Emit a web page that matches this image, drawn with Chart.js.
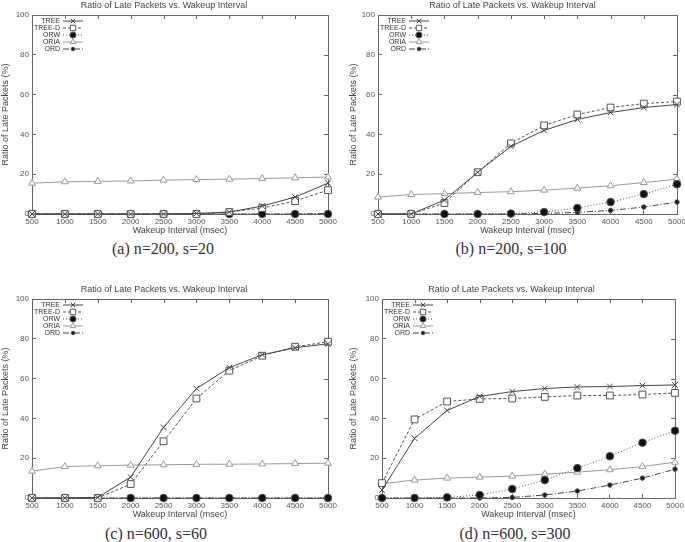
<!DOCTYPE html>
<html>
<head>
<meta charset="utf-8">
<script src="https://cdn.jsdelivr.net/npm/chart.js@4"></script>
<style>
body { margin: 0; background: #fff; width: 685px; height: 542px; position: relative; overflow: hidden; }
canvas { position: absolute; }
.cap { position: absolute; font-family: "Liberation Serif", serif; font-size: 16px; color: #333; white-space: nowrap; transform: translateX(-50%); }
</style>
</head>
<body>
<canvas id="cA" width="342" height="236" style="left:0;top:0"></canvas>
<canvas id="cB" width="343" height="236" style="left:342px;top:0"></canvas>
<canvas id="cC" width="342" height="236" style="left:0;top:284px"></canvas>
<canvas id="cD" width="343" height="236" style="left:342px;top:284px"></canvas>
<div class="cap" style="left:163px;top:240px">(a) n=200, s=20</div>
<div class="cap" style="left:511px;top:240px">(b) n=200, s=100</div>
<div class="cap" style="left:156px;top:525px">(c) n=600, s=60</div>
<div class="cap" style="left:515px;top:525px">(d) n=600, s=300</div>
<script>
// wakeup intervals (msec)
const intervals = [500, 1000, 1500, 2000, 2500, 3000, 3500, 4000, 4500, 5000];
const seriesNames = ['TREE', 'TREE-D', 'ORW', 'ORIA', 'ORD'];
const yTicks = [0, 20, 40, 60, 80, 100];

// (a) n=200, s=20
const treeA  = [0, 0, 0, 0, 0, 0.3, 1, 4, 8.5, 15.5];
const treeDA = [0, 0, 0, 0, 0, 0, 1, 3, 6.5, 12];
const orwA   = [0, 0, 0, 0, 0, 0, 0, 0, 0, 0];
const oriaA  = [15.5, 16.2, 16.4, 16.6, 17, 17.3, 17.5, 17.8, 18.2, 18.6];
const ordA   = [0, 0, 0, 0, 0, 0, 0, 0, 0, 0.3];

// (b) n=200, s=100
const treeB  = [0, 0, 7, 21, 34, 42, 47.5, 51, 53.5, 55];
const treeDB = [0, 0, 5.5, 21, 35.5, 44.5, 50, 53.5, 55.5, 56.5];
const orwB   = [0, 0, 0, 0, 0.2, 1, 3, 6, 10, 15];
const oriaB  = [8.5, 9.8, 10.2, 10.8, 11.2, 12, 13, 14.2, 15.8, 17.5];
const ordB   = [0, 0, 0, 0, 0, 0.3, 0.8, 1.8, 3.5, 6];

// (c) n=600, s=60
const treeC  = [0, 0, 0.3, 10.5, 35.5, 55, 65.5, 72, 75.5, 77.5];
const treeDC = [0, 0, 0, 7, 28.5, 50, 64, 71.5, 76, 78.5];
const orwC   = [0, 0, 0, 0, 0, 0, 0, 0, 0, 0];
const oriaC  = [13.5, 15.8, 16.2, 16.5, 16.7, 16.9, 17, 17.1, 17.3, 17.5];
const ordC   = [0, 0, 0, 0, 0, 0, 0, 0, 0, 0];

// (d) n=600, s=300
const treeD  = [4, 30, 44, 51, 53.5, 55, 55.8, 56, 56.5, 56.8];
const treeDD = [7.5, 39.5, 48.5, 49.8, 50, 50.8, 51.5, 51.5, 52, 52.8];
const orwD   = [0, 0, 0.3, 1.5, 4.5, 9, 15, 21, 27.8, 33.8];
const oriaD  = [7.2, 9, 10, 10.5, 11, 12, 13, 14.2, 15.8, 18];
const ordD   = [0, 0, 0, 0, 0.3, 1.5, 3.5, 6.5, 10, 14.5];

const styles = [
  { borderColor: '#444', borderDash: [], pointStyle: 'crossRot', pointRadius: 4, pointBackgroundColor: '#444' },
  { borderColor: '#555', borderDash: [3, 2], pointStyle: 'rect', pointRadius: 4.8, pointBackgroundColor: '#fff' },
  { borderColor: '#555', borderDash: [1, 2], pointStyle: 'circle', pointRadius: 3.8, pointBackgroundColor: '#111' },
  { borderColor: '#999', borderDash: [], pointStyle: 'triangle', pointRadius: 4, pointBackgroundColor: '#fff' },
  { borderColor: '#444', borderDash: [6, 2, 1, 2], pointStyle: 'circle', pointRadius: 2.2, pointBackgroundColor: '#222' }
];

const framePlugin = {
  id: 'frame',
  beforeDatasetsDraw(chart) {
    const { ctx, chartArea: a } = chart;
    const xs = chart.scales.x, ys = chart.scales.y;
    ctx.save();
    ctx.strokeStyle = '#666';
    ctx.lineWidth = 1;
    ctx.strokeRect(Math.round(a.left) + 0.5, Math.round(a.top) + 0.5, Math.round(a.right - a.left), Math.round(a.bottom - a.top));
    ctx.beginPath();
    xs.ticks.forEach((t, i) => {
      const x = Math.round(xs.getPixelForTick(i)) + 0.5;
      ctx.moveTo(x, a.top); ctx.lineTo(x, a.top + 4);
    });
    ys.ticks.forEach((t, i) => {
      const y = Math.round(ys.getPixelForTick(i)) + 0.5;
      ctx.moveTo(a.right, y); ctx.lineTo(a.right - 4, y);
    });
    ctx.stroke();
    ctx.restore();
  },
  afterDatasetsDraw(chart) {
    const { ctx, chartArea: a } = chart;
    ctx.save();
    ctx.font = '7px "Liberation Sans", Arial, sans-serif';
    ctx.textAlign = 'right';
    ctx.textBaseline = 'middle';
    chart.data.datasets.forEach((ds, i) => {
      const y = a.top + 6 + i * 7;
      ctx.fillStyle = '#333';
      ctx.fillText(ds.label, a.left + 28, y);
      ctx.strokeStyle = ds.borderColor;
      ctx.lineWidth = 1;
      ctx.setLineDash(ds.borderDash);
      ctx.beginPath();
      ctx.moveTo(a.left + 31, y); ctx.lineTo(a.left + 51, y);
      ctx.stroke();
      ctx.setLineDash([]);
      ctx.fillStyle = ds.pointBackgroundColor;
      ctx.strokeStyle = ds.borderColor;
      Chart.helpers.drawPoint(ctx, { pointStyle: ds.pointStyle, radius: ds.pointRadius * 0.8, rotation: 0, borderWidth: 1 }, a.left + 41, y);
    });
    ctx.restore();
  }
};

function makeChart(id, values, padLeft, yWidth, padRight) {
  const datasets = values.map((v, i) => Object.assign({
    label: seriesNames[i],
    data: v,
    borderWidth: 1,
    pointBorderColor: styles[i].borderColor,
    pointBorderWidth: 1,
    fill: false,
    tension: 0,
    clip: false
  }, styles[i]));
  return new Chart(document.getElementById(id), {
    type: 'line',
    data: { labels: intervals, datasets: datasets },
    options: {
      responsive: false,
      animation: false,
      layout: { padding: { left: padLeft, right: padRight, top: 0, bottom: 0 } },
      plugins: {
        legend: { display: false },
        tooltip: { enabled: false },
        title: {
          display: true,
          text: 'Ratio of Late Packets vs. Wakeup Interval',
          color: '#444',
          font: { family: '"Liberation Sans", Arial, sans-serif', size: 9, weight: 'normal' },
          padding: { top: 0, bottom: 4.2 }
        }
      },
      scales: {
        x: {
          type: 'category',
          offset: false,
          grid: { drawOnChartArea: false, tickLength: -4, color: '#666' },
          border: { color: '#666' },
          ticks: { color: '#555', font: { family: '"Liberation Sans", Arial, sans-serif', size: 8 }, padding: 7, maxRotation: 0, autoSkip: false },
          title: { display: true, text: 'Wakeup Interval (msec)', color: '#444', font: { family: '"Liberation Sans", Arial, sans-serif', size: 9 }, padding: 0 },
          afterFit(s) { s.height = 22; s.paddingLeft = 0; s.paddingRight = 0; }
        },
        y: {
          min: 0, max: 100,
          afterBuildTicks(s) { s.ticks = yTicks.map(v => ({ value: v })); },
          grid: { drawOnChartArea: false, tickLength: -4, color: '#666' },
          border: { color: '#666' },
          ticks: { color: '#555', font: { family: '"Liberation Sans", Arial, sans-serif', size: 8 }, padding: 7 },
          title: { display: true, text: 'Ratio of Late Packets (%)', color: '#444', font: { family: '"Liberation Sans", Arial, sans-serif', size: 9 }, padding: 0 },
          afterFit(s) { s.width = yWidth; s.paddingTop = 0; s.paddingBottom = 0; }
        }
      }
    },
    plugins: [framePlugin]
  });
}

makeChart('cA', [treeA, treeDA, orwA, oriaA, ordA], 0, 32, 14);
makeChart('cB', [treeB, treeDB, orwB, oriaB, ordB], 6, 30, 8);
makeChart('cC', [treeC, treeDC, orwC, oriaC, ordC], 0, 32, 14);
makeChart('cD', [treeD, treeDD, orwD, oriaD, ordD], 6, 34, 10);
</script>
</body>
</html>
